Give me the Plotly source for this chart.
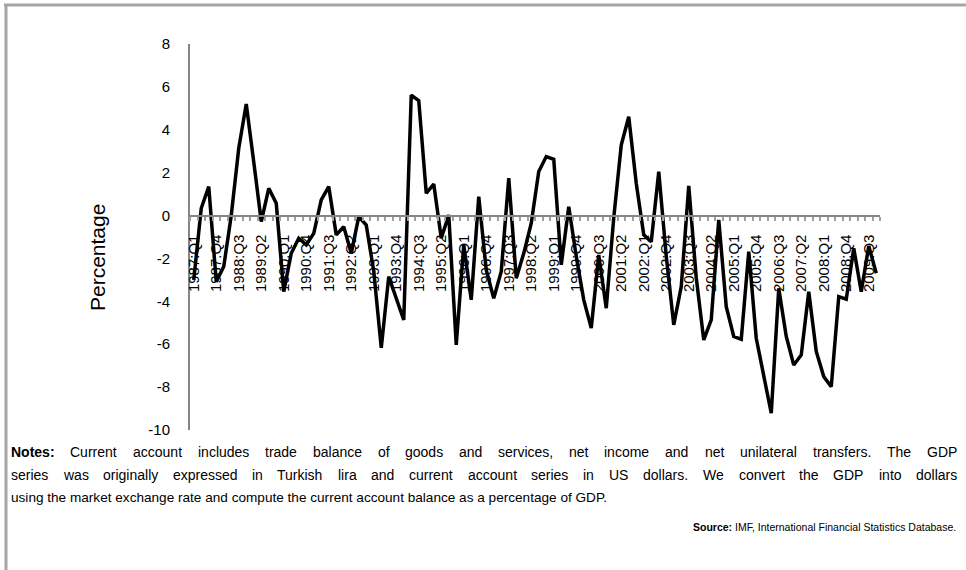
import plotly.graph_objects as go

years = list(range(1987, 2010))
quarters = [f"{y}:Q{q}" for y in years for q in range(1, 5)]

current_account = [
    -3.0, 0.34, 1.35, -3.08, -2.38, 0.0, 3.14, 5.2, 2.5, -0.28,
    1.27, 0.57, -3.55, -1.76, -1.06, -1.37, -0.83, 0.73, 1.35, -0.9,
    -0.52, -1.76, -0.05, -0.44, -2.6, -6.17, -2.85, -3.86, -4.87, 5.62,
    5.36, 1.04, 1.47, -1.06, 0.03, -6.03, -1.37, -3.93, 0.88, -2.54,
    -3.86, -2.61, 1.74, -2.92, -1.76, -0.36, 2.05, 2.75, 2.62, -2.30,
    0.41, -1.9, -3.93, -5.25, -1.84, -4.32, -0.1, 3.29, 4.61, 1.5,
    -0.9, -1.22, 2.05, -1.9, -5.1, -3.31, 1.38, -2.9, -5.8, -4.87,
    -0.2, -4.25, -5.64, -5.77, -1.68, -5.72, -7.5, -9.22, -3.39, -5.64,
    -6.97, -6.5, -3.55, -6.34, -7.51, -7.98, -3.78, -3.9, -1.53, -3.55,
    -1.42, -2.69,
]

tick_labels = [q if i % 3 == 0 else "" for i, q in enumerate(quarters)]
y_ticks = list(range(-10, 9, 2))

notes_lines = [
    "Notes: Current account includes trade balance of goods and services, net income and net unilateral transfers. The GDP",
    "series was originally expressed in Turkish lira and current account series in US dollars. We convert the GDP into dollars",
    "using the market exchange rate and compute the current account balance as a percentage of GDP.",
]
bold_words = {"Notes:", "Source:"}
source_text = "<b>Source:</b> IMF, International Financial Statistics Database."

W, H = 966, 570
L, R, T, B = 190, 86, 44, 140
pw, ph = W - L - R, H - T - B

def px(x):
    return (x - L) / pw

def py(y):
    return (H - B - y) / ph

# Arial / Liberation Sans advance widths (1/1000 em) used to justify text lines
_reg = dict(zip("abcdefghijklmnopqrstuvwxyz",
                [556, 556, 500, 556, 556, 278, 556, 556, 222, 222, 500, 222, 833,
                 556, 556, 556, 556, 333, 500, 278, 556, 500, 722, 500, 500, 500]))
_reg.update(dict(zip("ABCDEFGHIJKLMNOPQRSTUVWXYZ",
                     [667, 667, 722, 722, 667, 611, 778, 722, 278, 500, 667, 556, 833,
                      722, 778, 667, 778, 722, 667, 611, 722, 667, 944, 667, 667, 611])))
_reg.update({",": 278, ".": 278, ":": 278, " ": 278})
_bold = {"N": 722, "o": 611, "t": 333, "e": 556, "s": 556, ":": 333,
         "S": 667, "u": 611, "r": 389, "c": 556}

def word_width(word, size, bold=False):
    table = _bold if bold else _reg
    return sum(table.get(ch, _reg.get(ch, 556)) for ch in word) * size / 1000.0

fig = go.Figure()
fig.add_trace(go.Scatter(
    x=quarters, y=current_account, mode="lines",
    line=dict(color="black", width=3.5), showlegend=False,
))

sans = "Liberation Sans, Arial, sans-serif"

fig.update_layout(
    width=W, height=H,
    margin=dict(l=L, r=R, t=T, b=B),
    paper_bgcolor="white", plot_bgcolor="white",
    font=dict(family=sans, color="black"),
    xaxis=dict(
        type="category", categoryorder="array", categoryarray=quarters,
        range=[-0.5, len(quarters) - 0.5],
        anchor="free", position=10 / 18,
        showline=True, linecolor="#858585", linewidth=2,
        ticks="outside", ticklen=4, tickwidth=2, tickcolor="#a0a0a0",
        tickson="boundaries",
        tickmode="array", tickvals=quarters, ticktext=tick_labels,
        tickangle=-90, tickfont=dict(size=15, family=sans, color="black"),
        ticklabelstandoff=12,
        showgrid=False, zeroline=False,
    ),
    yaxis=dict(
        range=[-10, 8], tickmode="array", tickvals=y_ticks,
        ticktext=[str(v) for v in y_ticks],
        showline=True, linecolor="#858585", linewidth=2,
        ticks="", showgrid=False, zeroline=False,
        tickfont=dict(size=15, family=sans, color="black"),
        ticklabelstandoff=15,
    ),
)

fig.add_annotation(
    x=px(97), y=py(258), xref="paper", yref="paper",
    text="Percentage", textangle=-90, showarrow=False,
    xanchor="center", yanchor="middle",
    font=dict(size=21, family=sans, color="black"),
)

NOTE_SIZE = 14
LEFT, RIGHT = 11, 957
for i, line in enumerate(notes_lines):
    ypix = 452 + 22.8 * i
    if i < len(notes_lines) - 1:
        words = line.split(" ")
        widths = [word_width(w, NOTE_SIZE, w in bold_words) for w in words]
        gap = (RIGHT - LEFT - sum(widths)) / (len(words) - 1)
        x = LEFT
        for w, wd in zip(words, widths):
            fig.add_annotation(
                x=px(x), y=py(ypix), xref="paper", yref="paper",
                text=f"<b>{w}</b>" if w in bold_words else w,
                showarrow=False, xanchor="left", yanchor="middle",
                borderpad=0, borderwidth=0,
                font=dict(size=NOTE_SIZE, family=sans, color="black"),
            )
            x += wd + gap
    else:
        fig.add_annotation(
            x=px(LEFT), y=py(ypix), xref="paper", yref="paper",
            text=line, showarrow=False, xanchor="left", yanchor="middle",
            borderpad=0, borderwidth=0,
            font=dict(size=NOTE_SIZE - 0.4, family=sans, color="black"),
        )

fig.add_annotation(
    x=px(956), y=py(527), xref="paper", yref="paper",
    text=source_text, showarrow=False, xanchor="right", yanchor="middle",
    borderpad=0, borderwidth=0,
    font=dict(size=10.5, family=sans, color="black"),
)

border = "#a6a6a6"
fig.add_shape(type="line", xref="paper", yref="paper",
              x0=px(4), x1=px(966), y0=py(5), y1=py(5),
              line=dict(color=border, width=3))
fig.add_shape(type="line", xref="paper", yref="paper",
              x0=px(6), x1=px(6), y0=py(4), y1=py(570),
              line=dict(color=border, width=3))

fig.write_html("out.html", config={"displayModeBar": False},
               post_script="document.body.style.margin='0';")
